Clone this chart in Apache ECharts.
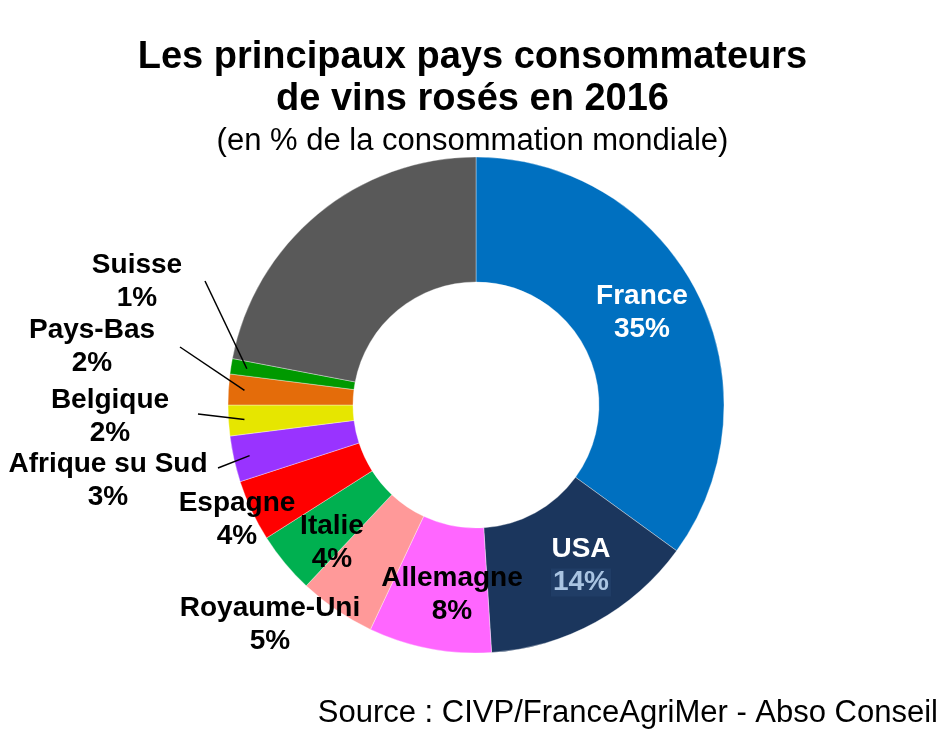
<!DOCTYPE html>
<html>
<head>
<meta charset="utf-8">
<script src="https://cdn.jsdelivr.net/npm/echarts@6/dist/echarts.min.js"></script>
<style>
html,body{margin:0;padding:0;background:#fff;}
#chart{width:945px;height:744px;}
</style>
</head>
<body>
<div id="chart"></div>
<script>
// ---- Data ----
const categories = ['France','USA','Allemagne','Royaume-Uni','Italie','Espagne','Afrique su Sud','Belgique','Pays-Bas','Suisse','Autres'];
const values = [35, 14, 8, 5, 4, 4, 3, 2, 2, 1, 22];
const titleText = 'Les principaux pays consommateurs\nde vins rosés en 2016';
const subtitleText = '(en % de la consommation mondiale)';
const sourceText = 'Source : CIVP/FranceAgriMer - Abso Conseil';

// ---- Styles / layout ----
const colors = ['#0070c0','#1b365d','#ff66ff','#ff9999','#00b050','#ff0000','#9933ff','#e6e600','#e46c0a','#009900','#595959'];
const cx = 476, cy = 405, rIn = 123, rOut = 248;
const FONT = '"Liberation Sans", Arial, sans-serif';
// label centres (text placement) and leader-line end near the text
const labelPos = [
  {x: 642, y: 313},
  {x: 581, y: 566},
  {x: 452, y: 595},
  {x: 270, y: 625},
  {x: 332, y: 543},
  {x: 237, y: 520},
  {x: 108, y: 481, line: [218, 468]},
  {x: 110, y: 417, line: [198, 414]},
  {x: 92,  y: 347, line: [180, 347]},
  {x: 137, y: 282, line: [205, 281]},
  null
];
const insideWhite = [0, 1];
const insideBlack = [2, 4];

const sliceData = categories.map((name, i) => ({
  name: name,
  value: values[i],
  itemStyle: {color: colors[i]}
}));

const labelData = categories.map((name, i) => {
  const item = {
    name: name,
    value: values[i],
    itemStyle: {color: 'rgba(0,0,0,0)', borderWidth: 0},
    label: {show: true},
    labelLine: {show: false}
  };
  if (i === categories.length - 1) {
    item.label = {show: false};
  } else if (insideWhite.indexOf(i) >= 0) {
    item.label = {show: true, position: 'inside', color: '#fff'};
    if (i === 1) {
      item.label.formatter = '{w|{b}}\n{k|{c}%}';
    }
  } else if (insideBlack.indexOf(i) >= 0) {
    item.label = {show: true, position: 'inside', color: '#000'};
  } else {
    item.label = {show: true, position: 'outside', color: '#000'};
    if (labelPos[i] && labelPos[i].line) {
      item.labelLine = {show: true, length: 10, length2: 10, lineStyle: {color: '#000', width: 1.5}};
    }
  }
  return item;
});

const total = values.reduce((a, b) => a + b, 0);
function edgePoint(i, r) {
  let cum = 0;
  for (let j = 0; j < i; j++) cum += values[j];
  const mid = (cum + values[i] / 2) / total * Math.PI * 2;
  return [cx + Math.sin(mid) * r, cy - Math.cos(mid) * r];
}

const chart = echarts.init(document.getElementById('chart'), null, {renderer: 'canvas'});
chart.setOption({
  animation: false,
  backgroundColor: '#fff',
  title: {
    text: titleText,
    subtext: subtitleText,
    left: 'center',
    top: 32,
    itemGap: 2,
    textStyle: {fontFamily: FONT, fontSize: 38, fontWeight: 'bold', color: '#000', lineHeight: 42},
    subtextStyle: {fontFamily: FONT, fontSize: 31, fontWeight: 'normal', color: '#000', lineHeight: 36}
  },
  graphic: [{
    type: 'text',
    x: 938, y: 713,
    style: {text: sourceText, font: '31px ' + FONT, fill: '#000', align: 'right', verticalAlign: 'middle'}
  }],
  series: [{
    type: 'pie',
    z: 2,
    center: [cx, cy],
    radius: [rIn, rOut],
    startAngle: 90,
    clockwise: true,
    silent: true,
    emphasis: {disabled: true},
    itemStyle: {borderColor: 'rgba(255,255,255,0.6)', borderWidth: 0.6},
    label: {show: false},
    labelLine: {show: false},
    data: sliceData
  }, {
    type: 'pie',
    z: 5,
    center: [cx, cy],
    radius: [rIn, rOut],
    startAngle: 90,
    clockwise: true,
    silent: true,
    avoidLabelOverlap: false,
    emphasis: {disabled: true},
    label: {
      formatter: '{b}\n{c}%',
      fontFamily: FONT,
      fontSize: 28,
      fontWeight: 'bold',
      lineHeight: 33,
      align: 'center',
      rich: {
        w: {fontFamily: FONT, fontSize: 28, fontWeight: 'bold', color: '#fff', lineHeight: 33},
        k: {fontFamily: FONT, fontSize: 28, fontWeight: 'bold', color: '#a9c4e2', lineHeight: 33,
            backgroundColor: '#203d66', padding: [0, 2, 0, 2]}
      }
    },
    labelLayout: function (params) {
      const i = params.dataIndex;
      const p = labelPos[i];
      if (!p) return {};
      const res = {x: p.x, y: p.y, align: 'center', verticalAlign: 'middle'};
      if (p.line) {
        const start = edgePoint(i, 232);
        res.labelLinePoints = [start, [p.line[0], p.line[1]], [p.line[0], p.line[1]]];
      }
      return res;
    },
    data: labelData
  }]
});
</script>
</body>
</html>
